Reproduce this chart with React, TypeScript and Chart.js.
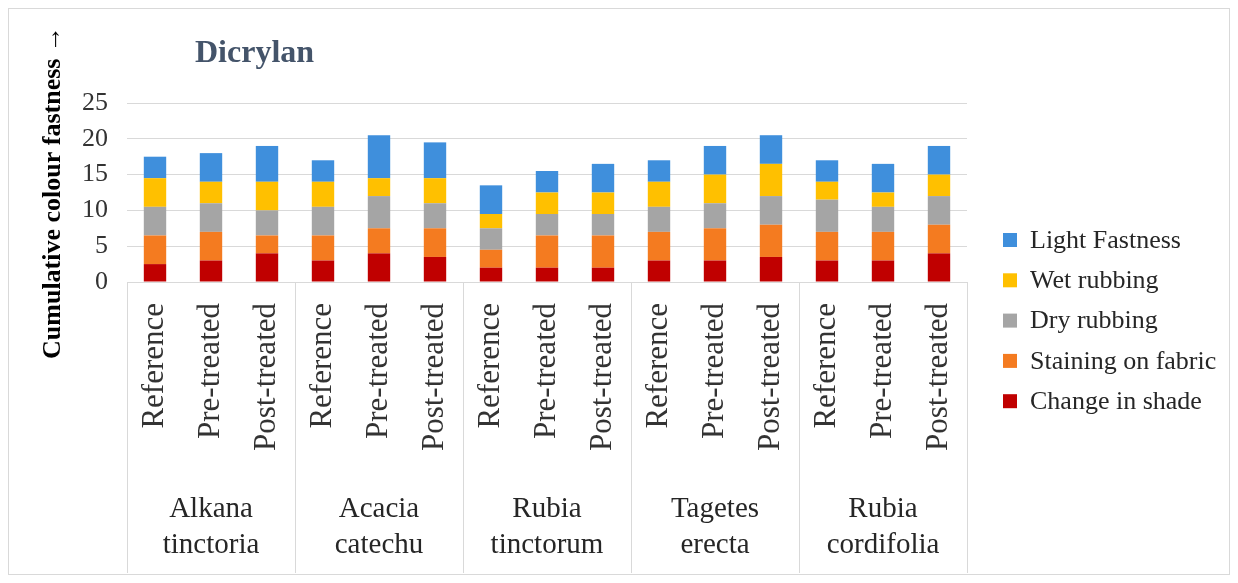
import React, { useEffect, useRef } from "react";
import { Chart, registerables } from "chart.js";

Chart.register(...registerables);

// ---------- data ----------
const groupLabels: string[][] = [
  ["Alkana", "tinctoria"],
  ["Acacia", "catechu"],
  ["Rubia", "tinctorum"],
  ["Tagetes", "erecta"],
  ["Rubia", "cordifolia"],
];
const treatments = ["Reference", "Pre-treated", "Post-treated"];
const categories: string[] = groupLabels.flatMap(() => treatments);

const seriesNames = [
  "Change in shade",
  "Staining on fabric",
  "Dry rubbing",
  "Wet rubbing",
  "Light Fastness",
];
const changeInShade = [2.5, 3, 4, 3, 4, 3.5, 2, 2, 2, 3, 3, 3.5, 3, 3, 4];
const stainingOnFabric = [4, 4, 2.5, 3.5, 3.5, 4, 2.5, 4.5, 4.5, 4, 4.5, 4.5, 4, 4, 4];
const dryRubbing = [4, 4, 3.5, 4, 4.5, 3.5, 3, 3, 3, 3.5, 3.5, 4, 4.5, 3.5, 4];
const wetRubbing = [4, 3, 4, 3.5, 2.5, 3.5, 2, 3, 3, 3.5, 4, 4.5, 2.5, 2, 3];
const lightFastness = [3, 4, 5, 3, 6, 5, 4, 3, 4, 3, 4, 4, 3, 4, 4];
const seriesValues = [changeInShade, stainingOnFabric, dryRubbing, wetRubbing, lightFastness];
const seriesColors = ["#c00000", "#f47b20", "#a5a5a5", "#ffc000", "#3f8fdc"];

const yMin = 0;
const yMax = 25;
const yStep = 5;
const chartTitle = "Dicrylan";
const yAxisTitle = "Cumulative colour fastness \u2192";

const SERIF = '"Liberation Serif", "Times New Roman", serif';
const TEXT = "#333333";

const decorPlugin = {
  id: "decor",
  afterDraw(chart: any) {
    const { ctx, chartArea } = chart;
    const x = chart.scales.x;
    ctx.save();
    // outer border
    ctx.strokeStyle = "#d9d9d9";
    ctx.lineWidth = 1;
    ctx.strokeRect(0.5, 0.5, chart.width - 1, chart.height - 1);

    // group separators
    for (let g = 0; g <= groupLabels.length; g++) {
      const px = Math.round(x.getPixelForValue(g * treatments.length - 0.5)) + 0.5;
      ctx.beginPath();
      ctx.moveTo(px, chartArea.bottom);
      ctx.lineTo(px, chart.height - 2);
      ctx.stroke();
    }

    // group labels
    ctx.fillStyle = "#262626";
    ctx.font = `29px ${SERIF}`;
    ctx.textAlign = "center";
    ctx.textBaseline = "alphabetic";
    groupLabels.forEach((lines, g) => {
      const cx = x.getPixelForValue(g * treatments.length + (treatments.length - 1) / 2);
      lines.forEach((t, i) => ctx.fillText(t, cx, chartArea.bottom + 235 + i * 36));
    });

    // title
    ctx.fillStyle = "#44546a";
    ctx.font = `bold 32px ${SERIF}`;
    ctx.textAlign = "left";
    ctx.fillText(chartTitle, 187, 54);

    // legend (top = last series)
    const ds = chart.data.datasets;
    ctx.font = `26px ${SERIF}`;
    ctx.textBaseline = "middle";
    for (let k = 0; k < ds.length; k++) {
      const d = ds[ds.length - 1 - k];
      const cy = 232 + k * 40.3;
      ctx.fillStyle = d.backgroundColor;
      ctx.fillRect(995, cy - 7, 14, 14);
      ctx.fillStyle = "#262626";
      ctx.fillText(d.label, 1022, cy + 1);
    }
    ctx.restore();
  },
};

export default function App() {
  const ref = useRef<HTMLCanvasElement | null>(null);

  useEffect(() => {
    if (!ref.current) return;
    const chart = new Chart(ref.current, {
      type: "bar",
      data: {
        labels: categories,
        datasets: seriesNames.map((name, i) => ({
          label: name,
          data: seriesValues[i],
          backgroundColor: seriesColors[i],
          borderWidth: 0,
          barPercentage: 0.4,
          categoryPercentage: 1,
        })),
      },
      options: {
        responsive: false,
        animation: false,
        layout: { padding: { top: 95, right: 263, bottom: 0, left: 10 } },
        plugins: {
          legend: { display: false },
          title: { display: false },
          tooltip: { enabled: false },
        },
        scales: {
          x: {
            stacked: true,
            grid: { display: false, drawTicks: false },
            border: { display: false },
            ticks: {
              autoSkip: false,
              maxRotation: 90,
              minRotation: 90,
              padding: 21,
              color: TEXT,
              font: { family: SERIF, size: 31 },
            },
            afterFit: (s: any) => {
              s.height = 293;
            },
          },
          y: {
            stacked: true,
            min: yMin,
            max: yMax,
            ticks: {
              stepSize: yStep,
              padding: 19,
              color: TEXT,
              font: { family: SERIF, size: 26 },
            },
            grid: { color: "#d9d9d9", drawTicks: false },
            border: { display: false },
            title: {
              display: true,
              text: yAxisTitle,
              color: "#000000",
              font: { family: SERIF, size: 26, weight: "bold" },
              padding: { top: 20, bottom: 0 },
            },
            afterFit: (s: any) => {
              s.width = 109;
            },
          },
        },
      },
      plugins: [decorPlugin],
    });
    return () => chart.destroy();
  }, []);

  return (
    <div style={{ width: 1222, height: 567 }}>
      <canvas ref={ref} width={1222} height={567} style={{ display: "block" }} />
    </div>
  );
}
